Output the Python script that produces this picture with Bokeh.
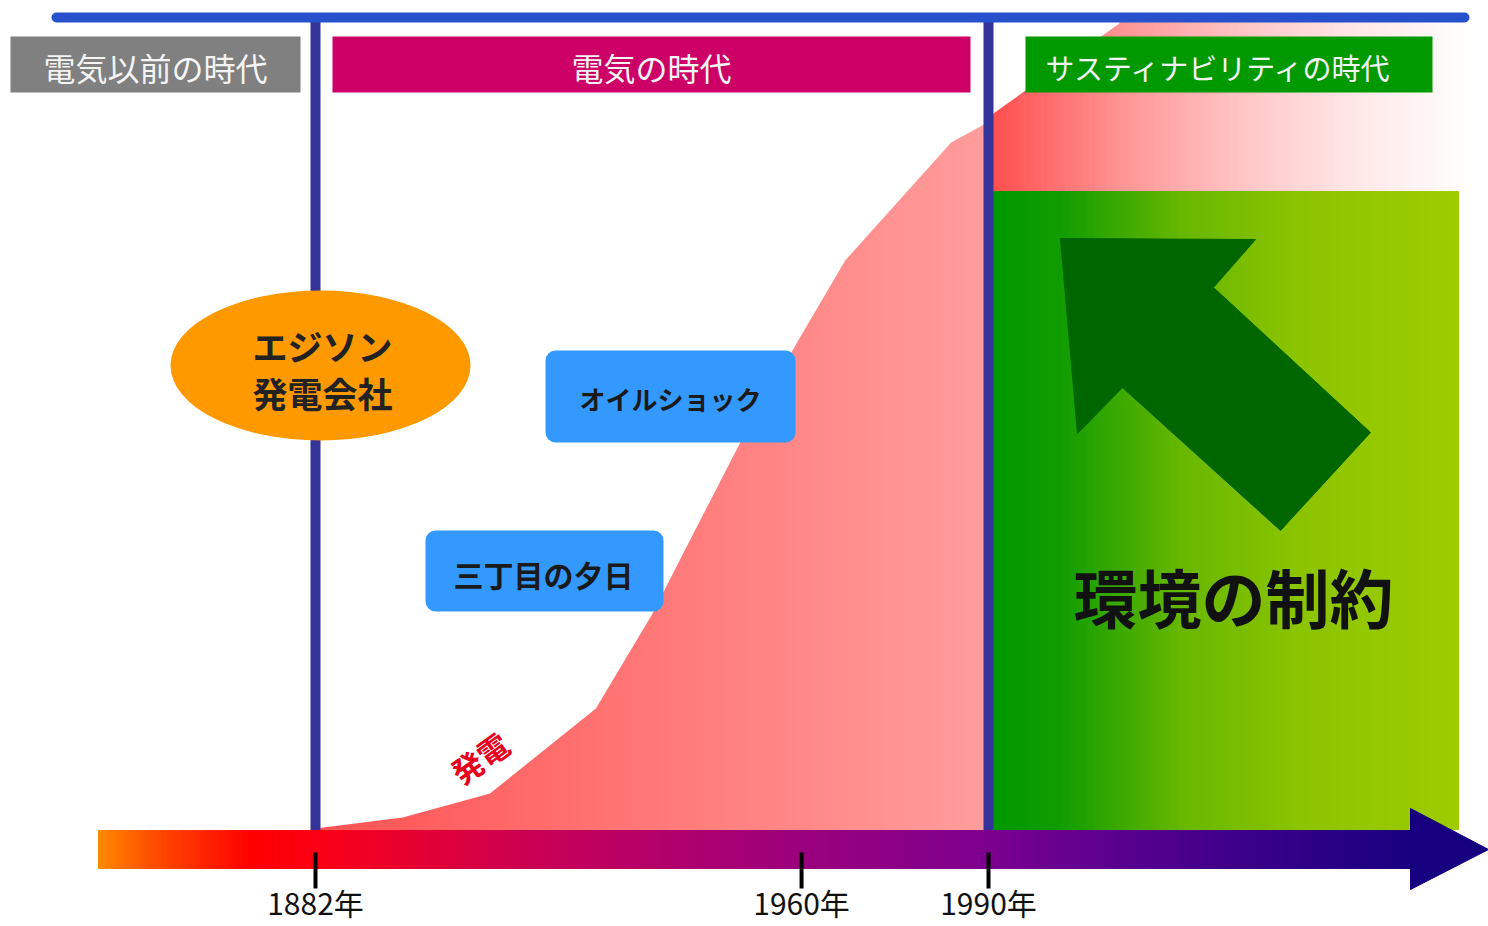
import numpy as np
from bokeh.plotting import figure
from bokeh.models import Range1d
from bokeh.core.properties import value
from bokeh.embed import file_html
from bokeh.resources import INLINE

# ---------------- data ----------------
gen_years = [1882, 1896, 1910, 1927, 1936, 1941, 1950, 1959, 1967, 1984, 1989, 1991, 2011]
gen_values = [0, 11, 35, 120, 214, 275, 384, 483, 568, 686, 703, 716, 805]
tick_years = [1882, 1960, 1990]
tick_labels = ["1882年", "1960年", "1990年"]
boundary_years = [1882, 1990]
era_labels = ["電気以前の時代", "電気の時代", "サスティナビリティの時代"]
event_labels = ["オイルショック", "三丁目の夕日"]
edison_lines = ["エジソン", "発電会社"]
curve_label = "発電"
constraint_label = "環境の制約"

# ---------------- layout helpers ----------------
W, H = 1488, 926
PXY = 673 / 108.0            # pixels per year
X0 = 1882 - 315 / PXY
def X(px):
    return X0 + px / PXY
def Y(py):
    return 828 - py

FONT = value("Noto Sans CJK JP")

def hex2rgb(h):
    h = h.lstrip("#")
    return np.array([int(h[i:i + 2], 16) for i in (0, 2, 4)], dtype=float)

def gradient(stops, start, end, step=3.0):
    edges = np.arange(start, end + step, step)
    edges[-1] = end
    mids = (edges[:-1] + edges[1:]) / 2
    pos = [s[0] for s in stops]
    rgb = np.array([hex2rgb(s[1]) for s in stops])
    cols = []
    for m in mids:
        c = [np.interp(m, pos, rgb[:, k]) for k in range(3)]
        cols.append("#%02x%02x%02x" % tuple(int(round(v)) for v in c))
    return edges, cols

p = figure(width=W, height=H, output_backend="svg", toolbar_location=None,
           x_range=Range1d(X(0), X(W)), y_range=Range1d(Y(H), Y(0)),
           x_axis_location=None, y_axis_location=None, min_border=0,
           background_fill_color="white", border_fill_color="white",
           outline_line_color=None)
p.xgrid.grid_line_color = None
p.ygrid.grid_line_color = None

def strips(stops, px0, px1, py_top, py_bot, step=3.0):
    e, c = gradient(stops, px0, px1, step)
    p.quad(left=[X(v) for v in e[:-1]], right=[X(v) for v in e[1:]],
           top=Y(py_top), bottom=Y(py_bot), fill_color=c, line_color=c, line_width=1)

# generation area (gradient) - left and right of 1990
strips([(315, "#ff5252"), (988, "#ff9d9d")], 315, 986, 18, 829)
strips([(994, "#ff4f4f"), (1120, "#ff9494"), (1240, "#ffc4c4"), (1350, "#ffe6e6"), (1460, "#fffcfc")],
       990, 1462, 18, 829)
# mask above generation curve
p.varea(x=gen_years, y1=gen_values, y2=Y(0), fill_color="white")

# environmental constraint block
strips([(994, "#009900"), (1060, "#109c00"), (1180, "#66b700"), (1300, "#8cc400"), (1458, "#9ecc00")],
       992, 1458, 191, 829)

# big dark green arrow
arrow_px = [1060, 1255, 1213, 1370, 1280, 1122, 1077]
arrow_py = [238, 239, 287, 432, 530, 387, 433]
p.patch([X(v) for v in arrow_px], [Y(v) for v in arrow_py], fill_color="#006600", line_color="#006600")
p.text(x=[X(1233)], y=[Y(594)], text=[constraint_label], text_font=FONT, text_font_size="64px",
       text_font_style="bold", text_align="center", text_baseline="middle", text_color="#111111")

# era boundary lines
p.segment(x0=boundary_years, y0=Y(20), x1=boundary_years, y1=Y(830), line_color="#333399", line_width=10)
# top line
p.segment(x0=[X(56)], y0=[Y(17)], x1=[X(1464)], y1=[Y(17)], line_color="#2650cc", line_width=10,
          line_cap="round")

# era boxes
era_l = [10, 332, 1025]
era_r = [300, 970, 1432]
era_c = ["#808080", "#cc0066", "#009900"]
p.quad(left=[X(v) for v in era_l], right=[X(v) for v in era_r], top=Y(36), bottom=Y(92),
       fill_color=era_c, line_color=None)
p.text(x=[X(155), X(651)], y=[Y(66), Y(66)], text=era_labels[:2], text_font=FONT,
       text_font_size="32px", text_align="center", text_baseline="middle", text_color="#f4f4f4")
p.text(x=[X(1219)], y=[Y(66)], text=era_labels[2:], text_font=FONT,
       text_font_size="29px", text_align="center", text_baseline="middle", text_color="#f4f4f4")

# Edison ellipse
p.ellipse(x=[X(320)], y=[Y(365)], width=300, height=150, width_units="screen", height_units="screen",
          fill_color="#ff9900", line_color=None)
p.text(x=[X(322), X(322)], y=[Y(345), Y(392)], text=edison_lines, text_font=FONT,
       text_font_size="35px", text_font_style="bold", text_align="center", text_baseline="middle",
       text_color="#222222")

# event boxes
p.quad(left=[X(545), X(425)], right=[X(795), X(663)], top=[Y(350), Y(530)], bottom=[Y(442), Y(611)],
       fill_color="#3399ff", line_color=None, border_radius=10)
p.text(x=[X(670)], y=[Y(398)], text=event_labels[:1], text_font=FONT, text_font_size="26px",
       text_font_style="bold", text_align="center", text_baseline="middle", text_color="#1a1a1a")
p.text(x=[X(543)], y=[Y(573)], text=event_labels[1:], text_font=FONT, text_font_size="30px",
       text_font_style="bold", text_align="center", text_baseline="middle", text_color="#1a1a1a")

# curve label
p.text(x=[X(479)], y=[Y(757)], text=[curve_label], angle=0.62, text_font=FONT, text_font_size="31px",
       text_font_style="bold", text_align="center", text_baseline="middle", text_color="#e8001c")

# time axis arrow
strips([(98, "#ff8a00"), (150, "#ff5000"), (250, "#ff0000"), (330, "#f80018"), (520, "#cc0050"),
        (640, "#b60068"), (795, "#9c007c"), (988, "#7c008e"), (1100, "#5e0090"), (1250, "#3a0088"),
        (1412, "#180080")], 98, 1412, 830, 868)
p.patch([X(1410), X(1410), X(1488)], [Y(808), Y(889), Y(849)], fill_color="#160080", line_color="#160080")

# ticks and labels
p.segment(x0=tick_years, y0=Y(852), x1=tick_years, y1=Y(888), line_color="black", line_width=4)
p.text(x=tick_years, y=Y(901), text=tick_labels, text_font=FONT, text_font_size="30px",
       text_align="center", text_baseline="middle", text_color="#111111")

open("out.html", "w").write(file_html(p, INLINE))
